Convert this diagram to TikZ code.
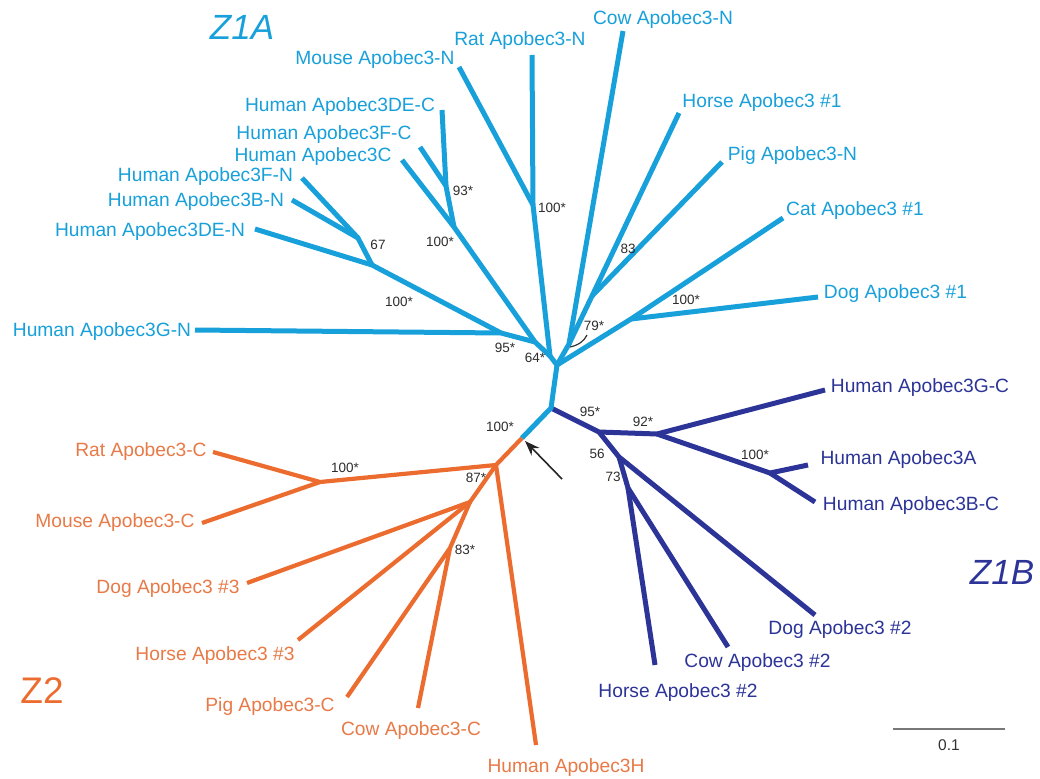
\documentclass[tikz,border=0pt]{standalone}
\usepackage{fontspec}
\setmainfont{Liberation Sans}
\usetikzlibrary{arrows.meta}
\definecolor{zcyan}{RGB}{24,160,218}
\definecolor{zblue}{RGB}{44,52,152}
\definecolor{zorange}{RGB}{236,108,48}
\definecolor{zotext}{RGB}{232,122,72}
\definecolor{bstext}{RGB}{45,45,45}
\definecolor{scalegray}{RGB}{120,120,120}
\begin{document}
\begin{tikzpicture}[x=1pt,y=-1pt,
  cyb/.style={draw=zcyan,line width=5pt,line join=round},
  blb/.style={draw=zblue,line width=5pt,line join=round},
  orb/.style={draw=zorange,line width=4.2pt,line join=round},
  lab/.style={font=\fontsize{19.2}{22}\selectfont,inner sep=0pt,anchor=mid,yshift=-4.5pt},
  cylab/.style={lab,text=zcyan},
  bllab/.style={lab,text=zblue},
  orlab/.style={lab,text=zotext},
  bs/.style={font=\fontsize{13.5}{15}\selectfont,text=bstext,inner sep=0pt,anchor=mid,yshift=-2pt},
  zone/.style={inner sep=0pt,anchor=mid,yshift=-9pt}]
\fill[white] (0,0) rectangle (1040,778);
\useasboundingbox (0,0) rectangle (1040,778);

% ---------- coordinates: cyan (Z1A)
\coordinate (O) at (522,438);
\coordinate (J) at (551,408);
\coordinate (C) at (557,365);
\coordinate (n64) at (550,356);
\coordinate (m) at (535,342);
\coordinate (a95) at (501,333);
\coordinate (r) at (533,205);
\coordinate (g100) at (454,227);
\coordinate (g93) at (446,186);
\coordinate (e) at (372,265);
\coordinate (f67) at (358,238);
\coordinate (q79) at (569,344);
\coordinate (hp) at (592,296);
\coordinate (d) at (631,319);
\coordinate (lMouseN) at (459,67);
\coordinate (lRatN) at (532,55);
\coordinate (lCowN) at (623,31);
\coordinate (lHorseN) at (679,113);
\coordinate (lPigN) at (722,162);
\coordinate (lCatN) at (783,218);
\coordinate (lDogN) at (818,297);
\coordinate (l3DEC) at (442,110);
\coordinate (l3FC) at (420,147);
\coordinate (l3C) at (402,160);
\coordinate (l3FN) at (302,178);
\coordinate (l3BN) at (292,200);
\coordinate (l3DEN) at (255,229);
\coordinate (l3GN) at (195,330);
% ---------- blue (Z1B)
\coordinate (k) at (599,432);
\coordinate (l92) at (657,434);
\coordinate (o100) at (770,473);
\coordinate (m56) at (619,457);
\coordinate (n73) at (628,488);
\coordinate (l3GC) at (825,390);
\coordinate (l3A) at (808,465);
\coordinate (l3BC) at (815,502);
\coordinate (lDog2) at (815,615);
\coordinate (lCow2) at (728,647);
\coordinate (lHorse2) at (655,665);
% ---------- orange (Z2)
\coordinate (p87) at (496,465);
\coordinate (rm) at (320,482);
\coordinate (s) at (470,502);
\coordinate (t83) at (450,548);
\coordinate (lRatC) at (213,452);
\coordinate (lMouseC) at (202,523);
\coordinate (lDog3) at (247,583);
\coordinate (lHorse3) at (298,640);
\coordinate (lPigC) at (347,697);
\coordinate (lCowC) at (418,708);
\coordinate (l3H) at (536,745);
% arrow
\coordinate (arrtail) at (562,479);
\coordinate (arrtip) at (525,441);
% scale bar
\coordinate (sb1) at (893,729);
\coordinate (sb2) at (1005,729);

% ---------- branches
\draw[blb] (J) -- (k) -- (l92) -- (l3GC);
\draw[blb] (l92) -- (o100) -- (l3A);
\draw[blb] (o100) -- (l3BC);
\draw[blb] (k) -- (m56) -- (lDog2);
\draw[blb] (m56) -- (n73) -- (lCow2);
\draw[blb] (n73) -- (lHorse2);

\draw[orb] (O) -- (p87) -- (rm) -- (lRatC);
\draw[orb] (rm) -- (lMouseC);
\draw[orb] (p87) -- (l3H);
\draw[orb] (p87) -- (s) -- (lDog3);
\draw[orb] (s) -- (lHorse3);
\draw[orb] (s) -- (t83) -- (lPigC);
\draw[orb] (t83) -- (lCowC);

\draw[cyb] (O) -- (J) -- (C) -- (n64) -- (m) -- (a95) -- (l3GN);
\draw[cyb] (a95) -- (e) -- (l3DEN);
\draw[cyb] (e) -- (f67) -- (l3BN);
\draw[cyb] (f67) -- (l3FN);
\draw[cyb] (m) -- (g100) -- (l3C);
\draw[cyb] (g100) -- (g93) -- (l3FC);
\draw[cyb] (g93) -- (l3DEC);
\draw[cyb] (n64) -- (r) -- (lRatN);
\draw[cyb] (r) -- (lMouseN);
\draw[cyb] (C) -- (q79) -- (lCowN);
\draw[cyb] (q79) -- (hp) -- (lHorseN);
\draw[cyb] (hp) -- (lPigN);
\draw[cyb] (C) -- (d) -- (lCatN);
\draw[cyb] (d) -- (lDogN);

% 79* arc
\draw[black!80,line width=1.2pt] (570,347) .. controls (579,345) and (584,341) .. (587,335);

% arrow
\draw[black!85,line width=1.6pt,-{Stealth[length=15pt,width=11pt]}] (arrtail) -- (arrtip);

% scale bar
\draw[scalegray,line width=1.3pt] (sb1) -- (sb2);
\node[bs,text=black!80,font=\fontsize{15.5}{17}\selectfont] (sblab) at (949,746) {0.1};

% ---------- leaf labels
\node[cylab] (tMouseN) at (375,57) {Mouse Apobec3-N};
\node[cylab] (tRatN) at (520,38) {Rat Apobec3-N};
\node[cylab] (tCowN) at (663,17) {Cow Apobec3-N};
\node[cylab] (t3DEC) at (340,104) {Human Apobec3DE-C};
\node[cylab] (t3FC) at (324,132) {Human Apobec3F-C};
\node[cylab] (t3C) at (313,154) {Human Apobec3C};
\node[cylab] (t3FN) at (205.5,174) {Human Apobec3F-N};
\node[cylab] (t3BN) at (196,199) {Human Apobec3B-N};
\node[cylab] (t3DEN) at (150,229) {Human Apobec3DE-N};
\node[cylab] (t3GN) at (102,329) {Human Apobec3G-N};
\node[cylab] (tHorseN) at (762,100) {Horse Apobec3 \#1};
\node[cylab] (tPigN) at (792.5,153) {Pig Apobec3-N};
\node[cylab] (tCatN) at (855,208) {Cat Apobec3 \#1};
\node[cylab] (tDogN) at (895.5,291) {Dog Apobec3 \#1};

\node[bllab] (t3GC) at (920,385) {Human Apobec3G-C};
\node[bllab] (t3A) at (898.5,457) {Human Apobec3A};
\node[bllab] (t3BC) at (911,503) {Human Apobec3B-C};
\node[bllab] (tDog2) at (840,627) {Dog Apobec3 \#2};
\node[bllab] (tCow2) at (757.5,660) {Cow Apobec3 \#2};
\node[bllab] (tHorse2) at (678,690) {Horse Apobec3 \#2};

\node[orlab] (tRatC) at (141,449) {Rat Apobec3-C};
\node[orlab] (tMouseC) at (115,520) {Mouse Apobec3-C};
\node[orlab] (tDog3) at (168,586) {Dog Apobec3 \#3};
\node[orlab] (tHorse3) at (215,653) {Horse Apobec3 \#3};
\node[orlab] (tPigC) at (270,704) {Pig Apobec3-C};
\node[orlab] (tCowC) at (411,728) {Cow Apobec3-C};
\node[orlab] (t3H) at (566,765) {Human Apobec3H};

% ---------- group labels
\node[zone,text=zcyan,font=\fontsize{35}{40}\selectfont\itshape] (zA) at (242,28) {Z1A};
\node[zone,text=zblue,font=\fontsize{35}{40}\selectfont\itshape] (zB) at (1002,573) {Z1B};
\node[zone,text=zorange,font=\fontsize{37}{42}\selectfont] (zC) at (42,692) {Z2};

% ---------- bootstrap values
\node[bs] (b93) at (463,191) {93*};
\node[bs] (b100a) at (440,242) {100*};
\node[bs] (b67) at (378,245) {67};
\node[bs] (b100b) at (399,302) {100*};
\node[bs] (b100c) at (552,208) {100*};
\node[bs] (b95a) at (505,348) {95*};
\node[bs] (b64) at (535,358) {64*};
\node[bs] (b83a) at (628,249) {83};
\node[bs] (b79) at (594,326) {79*};
\node[bs] (b100d) at (686,300) {100*};
\node[bs] (b95b) at (590,412) {95*};
\node[bs] (b92) at (643,422) {92*};
\node[bs] (b100e) at (755,455) {100*};
\node[bs] (b56) at (597,454) {56};
\node[bs] (b73) at (613,477) {73};
\node[bs] (b100f) at (500,427) {100*};
\node[bs] (b100g) at (345,468) {100*};
\node[bs] (b87) at (476,478) {87*};
\node[bs] (b83b) at (465,550) {83*};
\end{tikzpicture}
\end{document}
